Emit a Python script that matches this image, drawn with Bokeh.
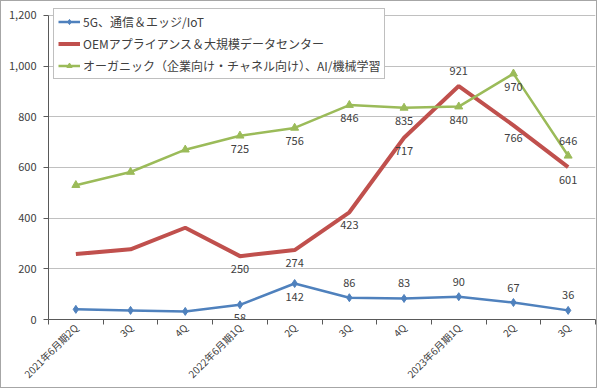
import math
from bokeh.plotting import figure
from bokeh.models import (ColumnDataSource, FixedTicker, NumeralTickFormatter,
                          Legend, LegendItem, Range1d)
from bokeh.core.properties import value
from bokeh.embed import file_html
from bokeh.resources import INLINE

# ---- data ----
categories = ["2021年6月期2Q", "3Q", "4Q", "2022年6月期1Q", "2Q", "3Q", "4Q",
              "2023年6月期1Q", "2Q", "3Q"]
g5 = [40, 36, 32, 58, 142, 86, 83, 90, 67, 36]
oem = [258, 277, 362, 250, 274, 423, 717, 921, 766, 601]
organic = [530, 582, 670, 725, 756, 846, 835, 840, 970, 646]
series_names = ["5G、通信＆エッジ/IoT",
                "OEMアプライアンス＆大規模データセンター",
                "オーガニック（企業向け・チャネル向け）、AI/機械学習"]
y_ticks = [0, 200, 400, 600, 800, 1000, 1200]

# where each point's data label sits (None = no label)
g5_label_pos = [None, None, None, "below", "below", "above", "above", "above", "above", "above"]
oem_label_pos = [None, None, None, "below", "below", "below", "below", "above", "below", "below"]
org_label_pos = [None, None, None, "below", "below", "below", "below", "below", "below", "above"]

FONT = "Noto Sans CJK JP"
TXT = "#404040"
C_BLUE = "#4F81BD"
C_RED = "#C0504D"
C_GREEN = "#9BBB59"

xs = list(range(len(categories)))
y_max = y_ticks[-1]

p = figure(width=597, height=388, x_range=Range1d(-0.5, len(categories) - 0.5),
           y_range=Range1d(0, y_max * 1.039), output_backend="svg", toolbar_location=None,
           min_border_left=47, min_border_right=3, min_border_top=2, min_border_bottom=66)
p.outline_line_color = None
p.background_fill_color = "white"
p.border_fill_color = "white"
p.styles = {"border": "1px solid #a6a6a6"}

# axes
p.xaxis.ticker = FixedTicker(ticks=xs, minor_ticks=[i - 0.5 for i in range(len(categories) + 1)])
p.xaxis.major_label_overrides = {i: c for i, c in enumerate(categories)}
p.xaxis.major_label_orientation = math.pi / 4
p.xaxis.major_tick_out = 0
p.xaxis.major_tick_in = 0
p.xaxis.minor_tick_out = 5
p.xaxis.minor_tick_in = 0
p.xaxis.minor_tick_line_color = "#595959"
p.xaxis.axis_line_color = "#595959"
p.xaxis.major_label_text_font = FONT
p.xaxis.major_label_text_font_size = "10px"
p.xaxis.major_label_text_color = TXT
p.xaxis.major_label_standoff = 1

p.yaxis.ticker = FixedTicker(ticks=y_ticks)
p.yaxis.bounds = (0, y_max)
p.yaxis.formatter = NumeralTickFormatter(format="0,0")
p.yaxis.major_tick_out = 5
p.yaxis.major_tick_in = 0
p.yaxis.minor_tick_line_color = None
p.yaxis.axis_line_color = "#595959"
p.yaxis.major_tick_line_color = "#595959"
p.yaxis.major_label_text_font = FONT
p.yaxis.major_label_text_font_size = "11px"
p.yaxis.major_label_text_color = TXT
p.yaxis.major_label_standoff = 7

p.xgrid.grid_line_color = None
p.ygrid.grid_line_color = "#c0c0c0"
p.ygrid.grid_line_width = 1

# series
r_g5_line = p.line(xs, g5, line_color=C_BLUE, line_width=2.5)
r_g5_mk = p.scatter(xs, g5, marker="diamond", size=8, fill_color=C_BLUE, line_color=C_BLUE)
r_oem_line = p.line(xs, oem, line_color=C_RED, line_width=4)
r_org_line = p.line(xs, organic, line_color=C_GREEN, line_width=2.5)
r_org_mk = p.scatter(xs, organic, marker="triangle", size=8, fill_color=C_GREEN, line_color=C_GREEN)


def add_labels(vals, positions):
    lx, ly, lt, dy = [], [], [], []
    for i, (v, pos) in enumerate(zip(vals, positions)):
        if pos is None:
            continue
        lx.append(i)
        ly.append(v)
        lt.append(str(v))
        dy.append(-15 if pos == "above" else 13)
    src = ColumnDataSource(dict(x=lx, y=ly, t=lt, dy=dy))
    p.text("x", "y", text="t", y_offset="dy", source=src, text_align="center",
           text_baseline="middle", text_font=value(FONT), text_font_size="11px",
           text_color=TXT)


add_labels(g5, g5_label_pos)
add_labels(oem, oem_label_pos)
add_labels(organic, org_label_pos)

legend = Legend(items=[
    LegendItem(label=series_names[0], renderers=[r_g5_line, r_g5_mk]),
    LegendItem(label=series_names[1], renderers=[r_oem_line]),
    LegendItem(label=series_names[2], renderers=[r_org_line, r_org_mk]),
], location="top_left")
legend.border_line_color = "#808080"
legend.border_line_width = 1
legend.background_fill_color = "white"
legend.background_fill_alpha = 1
legend.label_text_font = FONT
legend.label_text_font_size = "12px"
legend.label_text_color = TXT
legend.glyph_width = 22
legend.glyph_height = 13
legend.label_height = 13
legend.spacing = 5
legend.padding = 4
legend.margin = 5
legend.label_standoff = 3
p.add_layout(legend)

open("out.html", "w").write(file_html(p, INLINE))
